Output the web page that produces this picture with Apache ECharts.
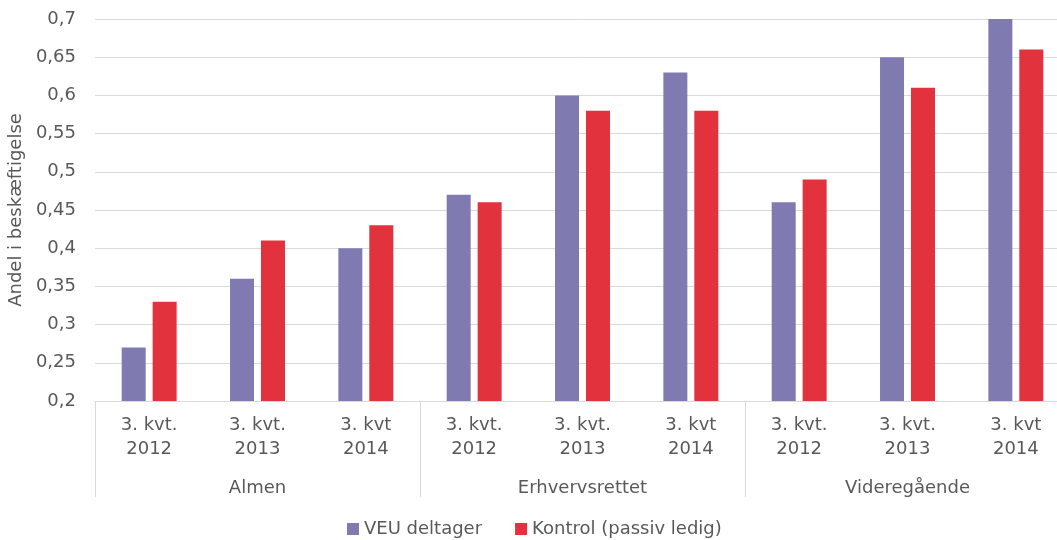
<!DOCTYPE html>
<html>
<head>
<meta charset="utf-8">
<script src="https://cdn.jsdelivr.net/npm/echarts@6/dist/echarts.min.js"></script>
<style>
  html, body { margin: 0; padding: 0; background: #ffffff; }
  #chart { width: 1057px; height: 540px; }
</style>
</head>
<body>
<div id="chart"></div>
<script>
// Education groups and measurement periods (two-level category axis)
const groups = ["Almen", "Erhvervsrettet", "Videregående"];
const periods = ["3. kvt.\n2012", "3. kvt.\n2013", "3. kvt\n2014"];

// Share in employment per group and period
const veuDeltager = [0.27, 0.36, 0.40, 0.47, 0.60, 0.63, 0.46, 0.65, 0.70];
const kontrol     = [0.33, 0.41, 0.43, 0.46, 0.58, 0.58, 0.49, 0.61, 0.66];

const seriesNames = ["VEU deltager", "Kontrol (passiv ledig)"];
const yTicks = { min: 0.2, max: 0.7, interval: 0.05 };

const categories = [];
groups.forEach(function () { periods.forEach(function (p) { categories.push(p); }); });

const FONT = "DejaVu Sans";
const TEXT = "#595959";
const LINE = "#d9d9d9";

const chart = echarts.init(document.getElementById("chart"), null, { renderer: "canvas" });

chart.setOption({
  animation: false,
  backgroundColor: "#ffffff",
  textStyle: { fontFamily: FONT, color: TEXT },
  grid: { left: 95, right: -13, top: 19, bottom: 139, outerBoundsMode: "none", containLabel: false },
  legend: {
    top: 515,
    left: 342,
    itemWidth: 12,
    itemHeight: 12,
    itemGap: 33,
    icon: "rect",
    textStyle: { fontFamily: FONT, fontSize: 18, color: TEXT },
    data: seriesNames
  },
  xAxis: [
    {
      type: "category",
      data: categories,
      boundaryGap: true,
      axisLine: { show: true, lineStyle: { color: LINE, width: 1 } },
      axisTick: { show: false },
      axisLabel: {
        interval: 0,
        margin: 12,
        fontFamily: FONT,
        fontSize: 18,
        lineHeight: 24,
        color: TEXT
      },
      splitLine: { show: false }
    },
    {
      type: "category",
      data: groups,
      position: "bottom",
      boundaryGap: true,
      axisLine: { show: false },
      axisTick: { show: true, interval: 0, length: 96, lineStyle: { color: LINE, width: 1 } },
      axisLabel: {
        interval: 0,
        margin: 76,
        fontFamily: FONT,
        fontSize: 18,
        lineHeight: 22,
        color: TEXT
      },
      splitLine: { show: false }
    }
  ],
  yAxis: {
    type: "value",
    min: yTicks.min,
    max: yTicks.max,
    interval: yTicks.interval,
    name: "Andel i beskæftigelse",
    nameLocation: "middle",
    nameGap: 67,
    nameRotate: 90,
    nameTextStyle: { fontFamily: FONT, fontSize: 18, color: TEXT },
    axisLine: { show: false },
    axisTick: { show: false },
    axisLabel: {
      margin: 19,
      fontFamily: FONT,
      fontSize: 18,
      color: TEXT,
      formatter: function (v) {
        return String(Number(v.toFixed(2))).replace(".", ",");
      }
    },
    splitLine: { show: true, lineStyle: { color: LINE, width: 1 } }
  },
  series: [
    {
      name: seriesNames[0],
      type: "bar",
      xAxisIndex: 0,
      data: veuDeltager,
      barWidth: 24,
      barGap: "29%",
      itemStyle: { color: "#7f7ab0" }
    },
    {
      name: seriesNames[1],
      type: "bar",
      xAxisIndex: 0,
      data: kontrol,
      barWidth: 24,
      barGap: "29%",
      itemStyle: { color: "#e1323d" }
    }
  ]
});
</script>
</body>
</html>
